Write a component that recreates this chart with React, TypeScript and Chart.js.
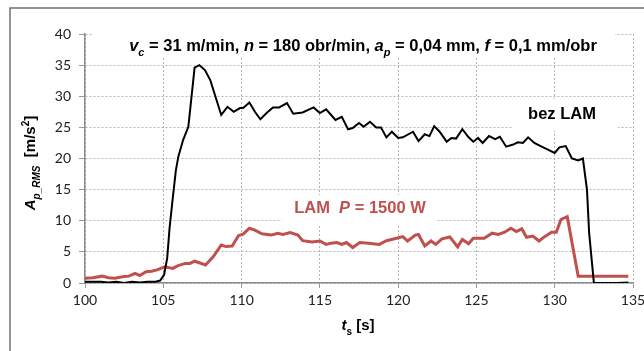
import React, { useEffect, useRef } from 'react';
import { Chart, registerables } from 'chart.js';

Chart.register(...registerables);

const blackTime = [100.0,100.5,101.0,101.5,102.0,102.5,103.0,103.5,104.0,104.5,104.8,105.05,105.25,105.4,105.6,105.8,105.96,106.27,106.6,107.0,107.3,107.66,108.0,108.3,108.7,109.1,109.5,109.9,110.1,110.5,110.85,111.2,111.6,112.0,112.4,112.9,113.3,113.9,114.6,115.0,115.4,116.0,116.4,116.8,117.1,117.5,117.8,118.2,118.6,118.9,119.25,119.6,120.0,120.3,120.95,121.3,121.7,122.0,122.3,122.65,123.1,123.4,123.7,124.1,124.5,124.8,125.1,125.4,125.8,126.2,126.5,126.9,127.3,127.65,127.97,128.3,128.7,129.1,129.5,130.0,130.3,130.7,131.1,131.5,131.8,132.06,132.2,132.5,133.0,134.0,134.7];
const blackValues = [0.2,0.2,0.2,0.1,0.2,0.0,0.2,0.1,0.2,0.2,0.4,1.3,4.0,8.8,13.5,18.0,20.3,23.0,25.1,34.6,35.0,34.2,32.6,30.2,27.0,28.3,27.5,28.1,28.1,29.0,27.5,26.3,27.3,28.2,28.2,28.9,27.2,27.4,28.2,27.3,27.9,26.2,26.7,24.7,24.9,25.7,25.1,25.9,25.0,25.0,23.4,24.3,23.3,23.4,24.3,22.8,23.9,23.6,25.2,24.3,22.7,23.3,23.2,24.7,23.4,22.7,23.3,22.5,23.6,23.1,23.5,21.9,22.2,22.6,22.5,23.4,22.5,22.0,21.5,20.9,21.8,22.0,20.0,19.7,20.0,15.0,8.0,0.05,0.0,0.0,0.1];

const redTime = [100.0,100.5,101.1,101.5,101.9,102.4,102.8,103.2,103.5,103.9,104.25,104.6,105.1,105.6,105.95,106.4,106.7,107.0,107.3,107.7,108.2,108.7,109.0,109.4,109.8,110.1,110.5,110.85,111.3,111.9,112.3,112.65,113.1,113.6,113.9,114.5,115.0,115.4,115.7,116.1,116.4,116.7,117.1,117.55,118.1,118.8,119.25,119.9,120.3,120.6,121.1,121.3,121.7,122.1,122.4,122.8,123.3,123.8,124.1,124.5,124.8,125.5,126.0,126.4,126.8,127.2,127.55,127.9,128.2,128.6,129.0,129.35,129.8,130.1,130.4,130.8,131.5,134.7];
const redValues = [0.75,0.85,1.1,0.85,0.75,1.0,1.1,1.55,1.2,1.8,1.9,2.1,2.6,2.35,2.8,3.15,3.15,3.5,3.25,2.9,4.25,6.1,5.85,5.95,7.6,7.85,8.8,8.5,7.9,7.7,8.0,7.8,8.1,7.7,6.8,6.6,6.75,6.2,6.4,6.5,6.2,6.5,5.7,6.5,6.4,6.2,6.8,7.2,7.45,6.75,7.7,7.8,5.95,6.75,6.2,7.1,7.4,5.8,7.0,6.3,7.2,7.2,8.0,7.8,8.15,8.8,8.25,8.7,7.35,7.55,6.75,7.45,8.15,8.15,10.2,10.65,1.1,1.1];

const xTickValues = [100, 105, 110, 115, 120, 125, 130, 135];
const yTickValues = [0, 5, 10, 15, 20, 25, 30, 35, 40];

const RED = '#c0504d';
const FAMILY = '"Liberation Sans", Arial, sans-serif';

type Part = { t: string; i?: boolean; sub?: boolean; sup?: boolean };

function fontFor(p: Part, size: number) {
  const s = p.sub || p.sup ? Math.round(size * 0.68) : size;
  return `${p.i ? 'italic ' : ''}bold ${s}px ${FAMILY}`;
}

function richWidth(ctx: CanvasRenderingContext2D, parts: Part[], size: number) {
  let w = 0;
  for (const p of parts) {
    ctx.font = fontFor(p, size);
    w += ctx.measureText(p.t).width;
  }
  return w;
}

function drawRich(ctx: CanvasRenderingContext2D, parts: Part[], cx: number, cy: number, size: number, color: string) {
  const w = richWidth(ctx, parts, size);
  let x = cx - w / 2;
  const base = cy + size * 0.36;
  ctx.fillStyle = color;
  ctx.textAlign = 'left';
  ctx.textBaseline = 'alphabetic';
  for (const p of parts) {
    ctx.font = fontFor(p, size);
    const dy = p.sub ? size * 0.28 : p.sup ? -size * 0.42 : 0;
    ctx.fillText(p.t, x, base + dy);
    x += ctx.measureText(p.t).width;
  }
}

const titleParts: Part[] = [
  { t: 'v', i: true }, { t: 'c', i: true, sub: true }, { t: ' = 31 m/min, ' },
  { t: 'n', i: true }, { t: ' = 180 obr/min, ' },
  { t: 'a', i: true }, { t: 'p', i: true, sub: true }, { t: ' = 0,04 mm, ' },
  { t: 'f', i: true }, { t: ' = 0,1 mm/obr' },
];
const yTitleParts: Part[] = [
  { t: 'A', i: true }, { t: 'p_RMS', i: true, sub: true }, { t: '  [m/s' }, { t: '2', sup: true }, { t: ']' },
];
const xTitleParts: Part[] = [{ t: 't', i: true }, { t: 's', sub: true }, { t: ' [s]' }];
const lamParts: Part[] = [{ t: 'LAM  ' }, { t: 'P', i: true }, { t: ' = 1500 W' }];
const bezParts: Part[] = [{ t: 'bez LAM' }];

const decorPlugin = {
  id: 'decor',
  beforeDatasetsDraw(chart: any) {
    const ctx = chart.ctx as CanvasRenderingContext2D;
    ctx.save();
    ctx.fillStyle = '#ffffff';
    ctx.fillRect(93, 27, 522, 30);
    ctx.fillRect(513, 99, 105, 32);
    ctx.fillRect(282, 195, 155, 31);
    ctx.restore();
  },
  afterDraw(chart: any) {
    const ctx = chart.ctx as CanvasRenderingContext2D;
    ctx.save();
    drawRich(ctx, titleParts, 363, 45, 16.5, '#000');
    drawRich(ctx, bezParts, 562, 113, 16.5, '#000');
    drawRich(ctx, lamParts, 360, 207, 16.5, RED);
    drawRich(ctx, xTitleParts, 358, 325, 15, '#000');
    ctx.save();
    ctx.translate(30, 163);
    ctx.rotate(-Math.PI / 2);
    drawRich(ctx, yTitleParts, 0, 0, 15, '#000');
    ctx.restore();
    // outer frame
    ctx.strokeStyle = '#707070';
    ctx.lineWidth = 1.5;
    ctx.beginPath();
    ctx.moveTo(10, 351);
    ctx.lineTo(10, 8);
    ctx.lineTo(644, 8);
    ctx.stroke();
    ctx.restore();
  },
};

export default function App() {
  const ref = useRef<HTMLCanvasElement | null>(null);

  useEffect(() => {
    document.body.style.margin = '0';
    const canvas = ref.current!;
    const chart = new Chart(canvas, {
      type: 'line',
      data: {
        datasets: [
          {
            label: 'bez LAM',
            data: blackTime.map((t, i) => ({ x: t, y: blackValues[i] })),
            borderColor: '#000000',
            borderWidth: 2,
            pointRadius: 0,
            tension: 0,
            fill: false,
          },
          {
            label: 'LAM P = 1500 W',
            data: redTime.map((t, i) => ({ x: t, y: redValues[i] })),
            borderColor: RED,
            borderWidth: 3,
            pointRadius: 0,
            tension: 0,
            fill: false,
          },
        ],
      },
      options: {
        responsive: false,
        animation: false,
        events: [],
        layout: { padding: { top: 34, right: 11, left: 0, bottom: 0 } },
        plugins: { legend: { display: false }, tooltip: { enabled: false }, title: { display: false } },
        scales: {
          x: {
            type: 'linear',
            min: 100,
            max: 135,
            afterBuildTicks: (scale: any) => {
              scale.ticks = xTickValues.map((v) => ({ value: v }));
            },
            afterFit: (scale: any) => {
              scale.height = 68;
              scale.paddingLeft = 0;
              scale.paddingRight = 0;
            },
            ticks: {
              font: { family: 'Lato', size: 14 },
              color: '#222',
              padding: 4,
              maxRotation: 0,
              autoSkip: false,
            },
            grid: {
              color: '#b4b4b4',
              lineWidth: 1,
              tickLength: 5,
              tickColor: '#999',
            },
            border: { display: true, color: '#8a8a8a', width: 1.5, dash: [2, 2] },
          },
          y: {
            type: 'linear',
            min: 0,
            max: 40,
            afterBuildTicks: (scale: any) => {
              scale.ticks = yTickValues.map((v) => ({ value: v }));
            },
            afterFit: (scale: any) => {
              scale.width = 85;
              scale.paddingTop = 0;
              scale.paddingBottom = 0;
            },
            ticks: {
              font: { family: 'Lato', size: 14 },
              color: '#222',
              padding: 8,
              autoSkip: false,
            },
            grid: {
              color: '#b4b4b4',
              lineWidth: 1,
              tickLength: 6,
              tickColor: '#999',
            },
            border: { display: true, color: '#8a8a8a', width: 1.5, dash: [2, 2] },
          },
        },
      },
      plugins: [decorPlugin],
    });
    return () => chart.destroy();
  }, []);

  return (
    <div style={{ position: 'absolute', left: 0, top: 0, width: 644, height: 351, background: '#fff' }}>
      <canvas ref={ref} width={644} height={351} style={{ width: 644, height: 351, display: 'block' }} />
    </div>
  );
}
